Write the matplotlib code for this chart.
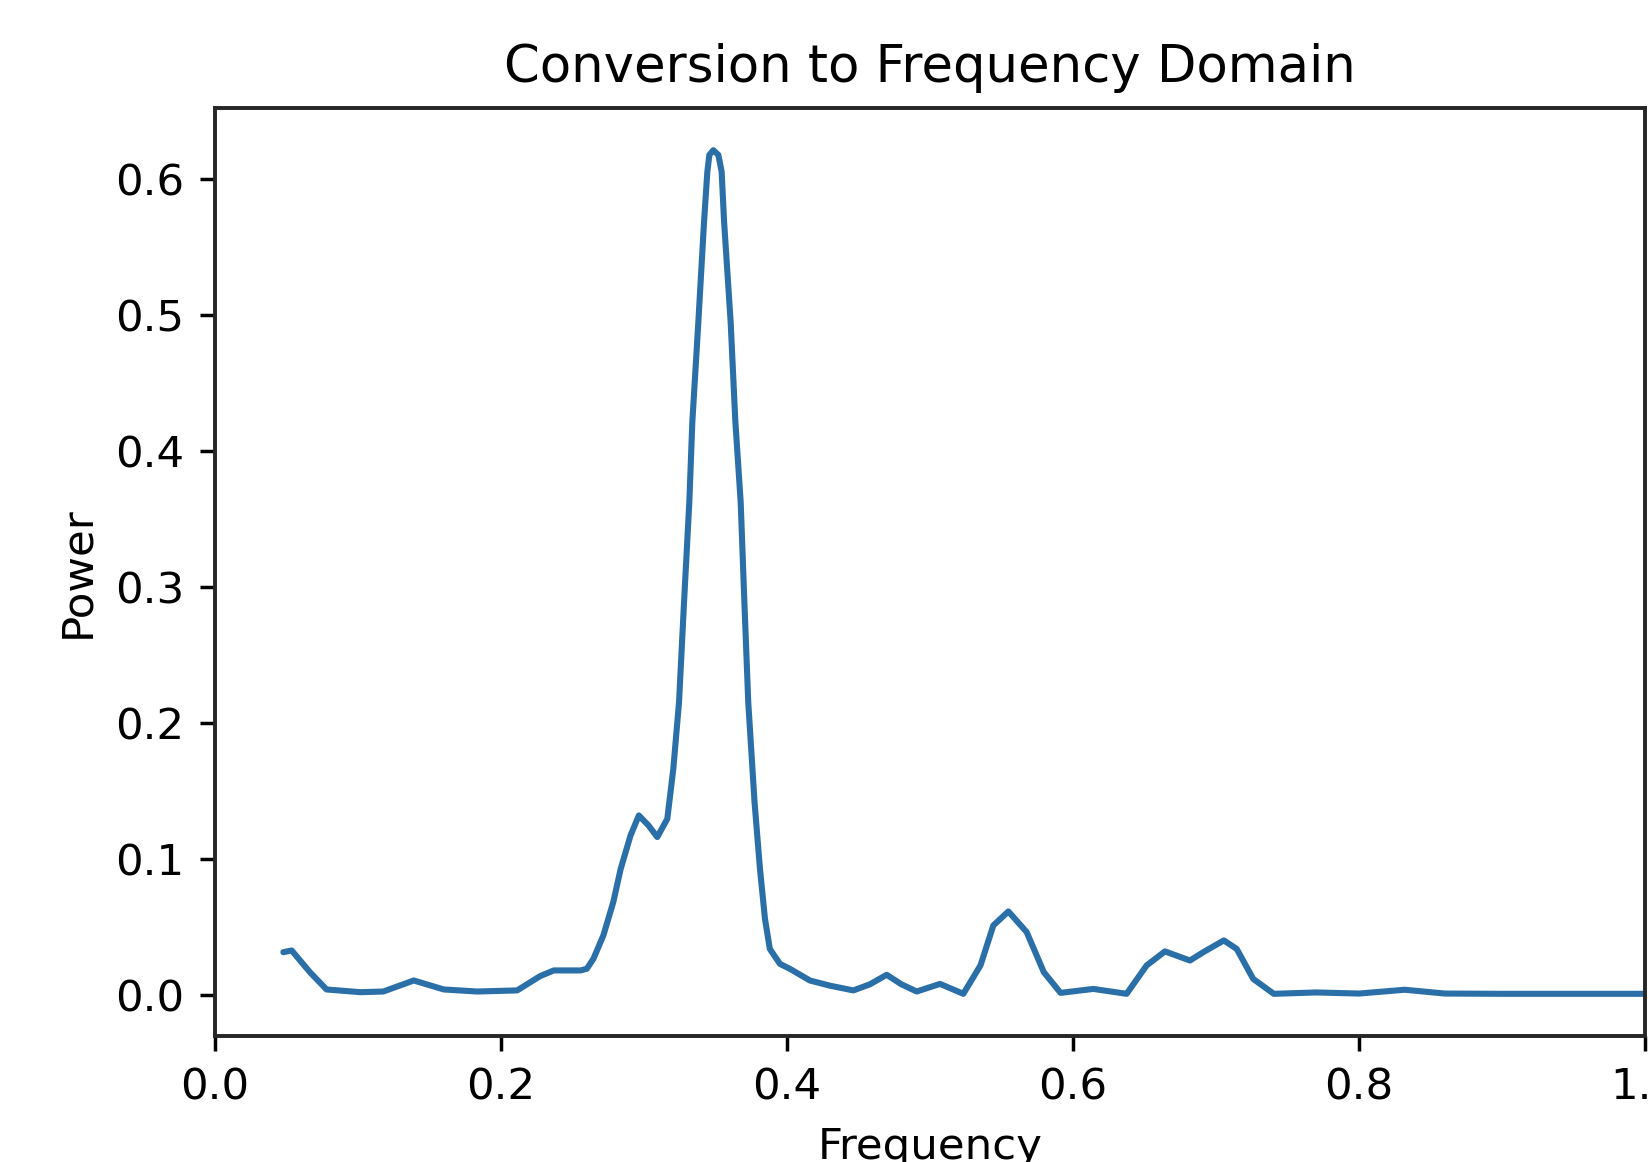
import numpy as np
import matplotlib
matplotlib.use("Agg")
import matplotlib.pyplot as plt

# power spectrum
freq = [0.0478, 0.0536, 0.0664, 0.0780, 0.1017, 0.1177, 0.1390, 0.1600, 0.1833, 0.2113,
        0.2273, 0.2369, 0.2556, 0.2600, 0.2646, 0.2716, 0.2785, 0.2837, 0.2906, 0.2964,
        0.3030, 0.3093, 0.3163, 0.3205, 0.3245, 0.3280, 0.3317, 0.3338, 0.3380, 0.3420,
        0.3443, 0.3457, 0.3485, 0.3520, 0.3543, 0.3560, 0.3606, 0.3639, 0.3676, 0.3702,
        0.3729, 0.3773, 0.3811, 0.3846, 0.3880, 0.3951, 0.4020, 0.4160, 0.4300, 0.4464,
        0.4580, 0.4697, 0.4800, 0.4907, 0.5070, 0.5233, 0.5353, 0.5443, 0.5548, 0.5676,
        0.5796, 0.5913, 0.6142, 0.6375, 0.6515, 0.6643, 0.6818, 0.6911, 0.7055, 0.7145,
        0.7260, 0.7404, 0.7700, 0.8000, 0.8320, 0.8600, 0.9000, 0.9500, 1.0000, 1.0200]
power = [0.0316, 0.0329, 0.0169, 0.0042, 0.0022, 0.0027, 0.0108, 0.0042, 0.0027, 0.0035,
         0.0140, 0.0182, 0.0182, 0.0194, 0.0267, 0.0440, 0.0684, 0.0929, 0.1175, 0.1322,
         0.1250, 0.1163, 0.1297, 0.1665, 0.2156, 0.2890, 0.3628, 0.4216, 0.4950, 0.5690,
         0.6056, 0.6180, 0.6215, 0.6180, 0.6056, 0.5690, 0.4950, 0.4216, 0.3628, 0.2890,
         0.2156, 0.1420, 0.0929, 0.0561, 0.0340, 0.0230, 0.0194, 0.0108, 0.0070, 0.0035,
         0.0080, 0.0150, 0.0080, 0.0027, 0.0083, 0.0010, 0.0219, 0.0513, 0.0616, 0.0464,
         0.0169, 0.0017, 0.0046, 0.0010, 0.0219, 0.0322, 0.0255, 0.0316, 0.0403, 0.0340,
         0.0120, 0.0010, 0.0020, 0.0012, 0.0040, 0.0012, 0.0010, 0.0010, 0.0010, 0.0010]

s = 3.13  # scale from the small original figure
plt.rcParams['font.family'] = ['DejaVu Sans']
plt.rcParams['font.size'] = 10 * s
plt.rcParams['axes.linewidth'] = 0.9 * s
plt.rcParams['axes.edgecolor'] = '#262626'
plt.rcParams['xtick.major.size'] = 3.5 * s
plt.rcParams['ytick.major.size'] = 3.5 * s
plt.rcParams['xtick.major.width'] = 0.8 * s
plt.rcParams['ytick.major.width'] = 0.8 * s
plt.rcParams['xtick.major.pad'] = 3.5 * s
plt.rcParams['ytick.major.pad'] = 3.5 * s

W, H = 1649, 1162
fig = plt.figure(figsize=(W / 100, H / 100), dpi=100)
left, right, top, bottom = 215, 1645, 108, 1036
ax = fig.add_axes([left / W, 1 - bottom / H, (right - left) / W, (bottom - top) / H])

ax.plot(freq, power, color='#2a6fa8', linewidth=1.4 * s,
        solid_joinstyle='round', solid_capstyle='round')
ax.set_xlim(0, 1)
ax.set_title('Conversion to Frequency Domain', fontsize=11.8 * s, pad=6 * s)
ax.set_xlabel('Frequency', labelpad=4 * s)
ax.set_ylabel('Power', labelpad=4 * s)

fig.savefig('out.png', dpi=100)
